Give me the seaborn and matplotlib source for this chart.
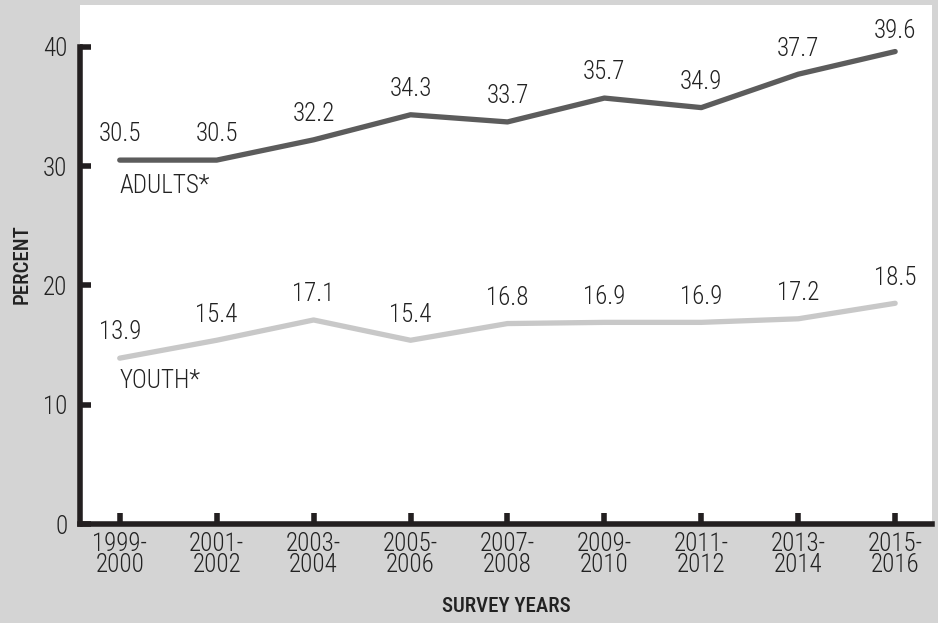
import numpy as np
import pandas as pd
import seaborn as sns
import matplotlib.pyplot as plt

# survey periods and percentages
years = ["1999-\n2000", "2001-\n2002", "2003-\n2004", "2005-\n2006", "2007-\n2008",
         "2009-\n2010", "2011-\n2012", "2013-\n2014", "2015-\n2016"]
adults = [30.5, 30.5, 32.2, 34.3, 33.7, 35.7, 34.9, 37.7, 39.6]
youth = [13.9, 15.4, 17.1, 15.4, 16.8, 16.9, 16.9, 17.2, 18.5]
y_ticks = [0, 10, 20, 30, 40]

df = pd.DataFrame({"pos": np.arange(len(years)), "adults": adults, "youth": youth})

sns.set_style("white")
plt.rcParams['font.family'] = ['Roboto Condensed', 'DejaVu Sans']
plt.rcParams['font.stretch'] = 'condensed'

fig = plt.figure(figsize=(9.38, 6.23), dpi=100)
fig.patch.set_facecolor("#d4d4d4")
ax = fig.add_axes([80 / 938, 99 / 623, 852 / 938, 519 / 623])
ax.set_facecolor("white")

sns.lineplot(data=df, x="pos", y="adults", color="#5c5c5c", linewidth=3.8, ax=ax)
sns.lineplot(data=df, x="pos", y="youth", color="#c8c8c8", linewidth=3.8, ax=ax)

txt = dict(fontsize=18, fontweight="light", color="#222222")

# value labels above points (last adult label sits a bit lower in the original)
for i in range(len(years)):
    off = 15 if i == len(years) - 1 else 18.5
    ax.annotate(f"{adults[i]}", (i, adults[i]), xytext=(0, off), textcoords="offset points",
                ha="center", va="center", **txt)
    ax.annotate(f"{youth[i]}", (i, youth[i]), xytext=(0, 18.5), textcoords="offset points",
                ha="center", va="center", **txt)

ax.text(0, 28.3, "ADULTS*", ha="left", va="center", **txt)
ax.text(0, 12.0, "YOUTH*", ha="left", va="center", **txt)

ax.set_xlim(-0.41, 8.38)
ax.set_ylim(0, 43.5)
ax.set_xticks(df["pos"])
ax.set_xticklabels(years, linespacing=0.85, fontweight="light")
ax.set_yticks(y_ticks)
ax.set_yticklabels([str(t) for t in y_ticks], fontweight="light")

for s in ["top", "right"]:
    ax.spines[s].set_visible(False)
for s in ["left", "bottom"]:
    ax.spines[s].set_color("#231f20")
    ax.spines[s].set_linewidth(4)
ax.spines["left"].set_bounds(0, 40)

ax.tick_params(axis="both", direction="in", length=8, width=4, color="#231f20",
               labelsize=18, labelcolor="#222222", bottom=True, left=True)
ax.tick_params(axis="y", pad=9)
ax.tick_params(axis="x", pad=6)

ax.set_xlabel("SURVEY YEARS", fontsize=15, fontweight="medium", color="#222222", labelpad=14)
ax.set_ylabel("PERCENT", fontsize=15, fontweight="medium", color="#222222", labelpad=8)

fig.savefig("out.png", dpi=100, facecolor=fig.get_facecolor())
